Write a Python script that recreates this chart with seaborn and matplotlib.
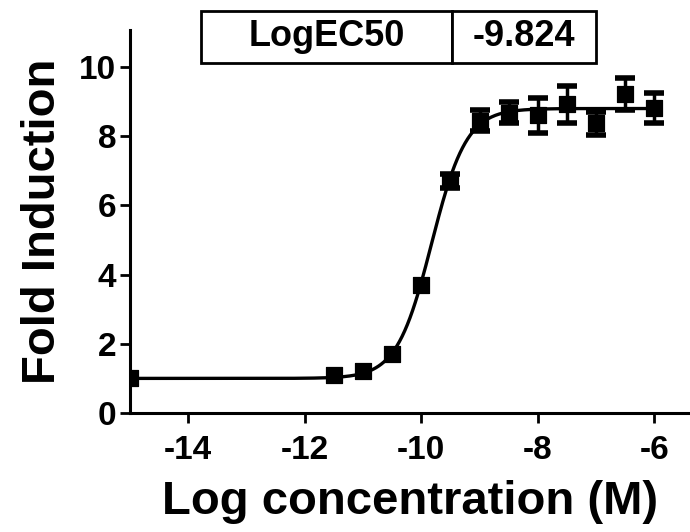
import numpy as np
import pandas as pd
import matplotlib
matplotlib.use('Agg')
import matplotlib.pyplot as plt
import seaborn as sns

# data
log_conc = [-15, -11.5, -11, -10.5, -10, -9.5, -9, -8.5, -8, -7.5, -7, -6.5, -6]
fold = [1.0, 1.1, 1.2, 1.7, 3.7, 6.7, 8.45, 8.68, 8.6, 8.92, 8.37, 9.22, 8.82]
# error bars hidden behind the markers at low concentrations
fold_err = [np.nan, np.nan, np.nan, np.nan, np.nan, 0.2, 0.3, 0.3, 0.5, 0.53, 0.33, 0.46, 0.43]

# 4PL fit parameters
bottom, top, log_ec50, hill = 1.0, 8.8, -9.824, 1.45

x_ticks = [-14, -12, -10, -8, -6]
y_ticks = [0, 2, 4, 6, 8, 10]

df = pd.DataFrame({'logc': log_conc, 'fold': fold, 'err': fold_err})
xfit = np.linspace(-15, -6, 400)
fit = pd.DataFrame({'logc': xfit,
                    'fold': bottom + (top - bottom) / (1 + 10 ** ((log_ec50 - xfit) * hill))})

sns.set_style('ticks')
plt.rcParams['font.family'] = ['Liberation Sans', 'DejaVu Sans']
plt.rcParams['font.weight'] = 'bold'
plt.rcParams['axes.unicode_minus'] = False
plt.rcParams['text.color'] = 'black'
plt.rcParams['axes.labelcolor'] = 'black'
plt.rcParams['xtick.color'] = 'black'
plt.rcParams['ytick.color'] = 'black'

fig = plt.figure(figsize=(6.9, 5.32), dpi=100)
ax = fig.add_axes([130 / 690, 1 - 413 / 532, 560 / 690, 383 / 532])

sns.lineplot(data=fit, x='logc', y='fold', ax=ax, color='black', linewidth=2.4)
ax.errorbar(df['logc'], df['fold'], yerr=df['err'], fmt='none', ecolor='black',
            elinewidth=2.5, capsize=7, capthick=4)
sns.scatterplot(data=df, x='logc', y='fold', ax=ax, marker='s', s=120,
                color='black', edgecolor='black', zorder=5)

ax.set_xlim(-15, -5.39)
ax.set_ylim(0, 11.07)
ax.set_xticks(x_ticks)
ax.set_yticks(y_ticks)
ax.set_xlabel('Log concentration (M)', fontsize=34, fontweight='bold', labelpad=10)
ax.set_ylabel('Fold Induction', fontsize=34, fontweight='bold', labelpad=10)
ax.tick_params(axis='x', pad=9)
ax.tick_params(axis='y', pad=3)
ax.tick_params(axis='both', labelsize=24, width=2, length=7, color='black')
for lab in ax.get_xticklabels() + ax.get_yticklabels():
    lab.set_fontweight('bold')
for side in ['left', 'bottom']:
    ax.spines[side].set_linewidth(2.2)
    ax.spines[side].set_color('black')
sns.despine(ax=ax)

tbl = ax.table(cellText=[['LogEC50', '-9.824']], colWidths=[0.635, 0.365],
               cellLoc='center', bbox=[0.127, 0.914, 0.705, 0.136])
tbl.auto_set_font_size(False)
for cell in tbl.get_celld().values():
    cell.set_linewidth(2)
    cell.set_edgecolor('black')
    cell.get_text().set_fontsize(26)
    cell.get_text().set_fontweight('bold')
tbl.set_clip_on(False)

fig.savefig('out.png', dpi=100)
